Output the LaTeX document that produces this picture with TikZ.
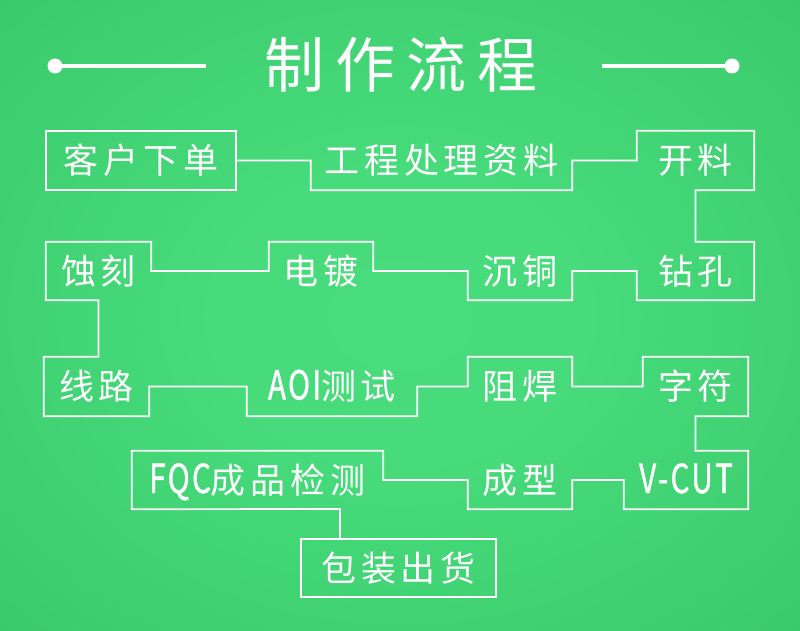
\documentclass[tikz,border=0pt]{standalone}
\usepackage{fontspec}
\newfontfamily\cjk{Noto Sans CJK SC}[LetterSpace=14]
\newfontfamily\cjktitle{Noto Sans CJK SC}[LetterSpace=18]
\newfontfamily\latn{Noto Sans CJK SC}[LetterSpace=8, FakeBold=1.2]
\definecolor{bglight}{HTML}{48DC7C}
\definecolor{bgdark}{HTML}{25B053}
\pgfdeclareradialshading{bgshade}{\pgfpoint{0bp}{0bp}}{color(0bp)=(bglight); color(12bp)=(bglight!97!bgdark); color(72bp)=(bgdark)}
\newcommand\lat[1]{{\fontsize{40}{40}\selectfont\latn\scalebox{0.74}[1]{#1}}}
\newcommand\boxnode[6]{%
  \pgfmathsetmacro\bxw{#4-#2}\pgfmathsetmacro\bxh{#5-#3}%
  \node[bxs, minimum width=\bxw pt, minimum height=\bxh pt] (#1) at ({(#2+#4)/2},{(#3+#5)/2}) {#6};}
\tikzset{
  bxs/.style={inner sep=0pt, draw=none, text=white, font=\fontsize{35}{35}\selectfont\cjk,
    text height=30.5pt, text depth=4.5pt},
  ln/.style={draw=white, line width=1.7pt, line join=miter},
}
\begin{document}
\begin{tikzpicture}[x=1pt,y=-1pt]
\useasboundingbox (0,0) rectangle (800,631);
\shade[shading=bgshade] (0,0) rectangle (800,631);
% title
\node[text=white, font=\fontsize{60}{60}\selectfont\cjktitle, inner sep=0pt,
  text height=52pt, text depth=8pt] (title) at (401,66) {制作流程};
\coordinate (la) at (55,66); \coordinate (lb) at (206,66);
\coordinate (ra) at (602,66); \coordinate (rb) at (732,66);
\draw[white, line width=4.5pt] (la) -- (lb);
\draw[white, line width=4.5pt] (ra) -- (rb);
\fill[white] (la) circle (7.5pt);
\fill[white] (rb) circle (7.5pt);
% boxes
\boxnode{b1}{46}{131}{236}{190}{客户下单}
\boxnode{b2}{311}{131}{572}{190}{工程处理资料}
\boxnode{b3}{637}{131}{754}{190}{开料}
\boxnode{b4}{637}{242}{754}{300}{钻孔}
\boxnode{b5}{468}{242}{572}{300}{沉铜}
\boxnode{b6}{269}{242}{373}{300}{电镀}
\boxnode{b7}{46}{242}{151}{300}{蚀刻}
\boxnode{b8}{44}{357}{149}{416}{线路}
\boxnode{b9}{247}{357}{417}{416}{\lat{AOI}测试}
\boxnode{b10}{468}{357}{572}{416}{阻焊}
\boxnode{b11}{643}{357}{748}{416}{字符}
\boxnode{b12}{624}{451}{748}{509}{\lat{V-CUT}}
\boxnode{b13}{468}{451}{572}{509}{成型}
\boxnode{b14}{132}{451}{383}{509}{\lat{FQC}成品检测}
\boxnode{b15}{301}{539}{496}{597}{包装出货}
\coordinate (j) at (340,509);
% outlines and connectors
\draw[ln] (b1.north west) rectangle (b1.south east);
\draw[ln] (b15.north west) rectangle (b15.south east);
\draw[ln] (b1.east) -- (b2.west) -- (b2.south west) -- (b2.south east) -- (b2.east)
  -- (b3.west) -- (b3.north west) -- (b3.north east) -- (b3.south east) -- (b3.south)
  -- (b4.north) -- (b4.north east) -- (b4.south east) -- (b4.south west) -- (b4.west)
  -- (b5.east) -- (b5.south east) -- (b5.south west) -- (b5.west)
  -- (b6.east) -- (b6.north east) -- (b6.north west) -- (b6.west)
  -- (b7.east) -- (b7.north east) -- (b7.north west) -- (b7.south west) -- (b7.south)
  -- (b7.south |- b8.north) -- (b8.north west) -- (b8.south west) -- (b8.south east) -- (b8.east)
  -- (b9.west) -- (b9.south west) -- (b9.south east) -- (b9.east)
  -- (b10.west) -- (b10.north west) -- (b10.north east) -- (b10.east)
  -- (b11.west) -- (b11.north west) -- (b11.north east) -- (b11.south east) -- (b11.south)
  -- (b11.south |- b12.north) -- (b12.north east) -- (b12.south east) -- (b12.south west) -- (b12.west)
  -- (b13.east) -- (b13.south east) -- (b13.south west) -- (b13.west)
  -- (b14.east) -- (b14.north east) -- (b14.north west) -- (b14.south west) -- (j)
  -- (j |- b15.north);
\end{tikzpicture}
\end{document}
